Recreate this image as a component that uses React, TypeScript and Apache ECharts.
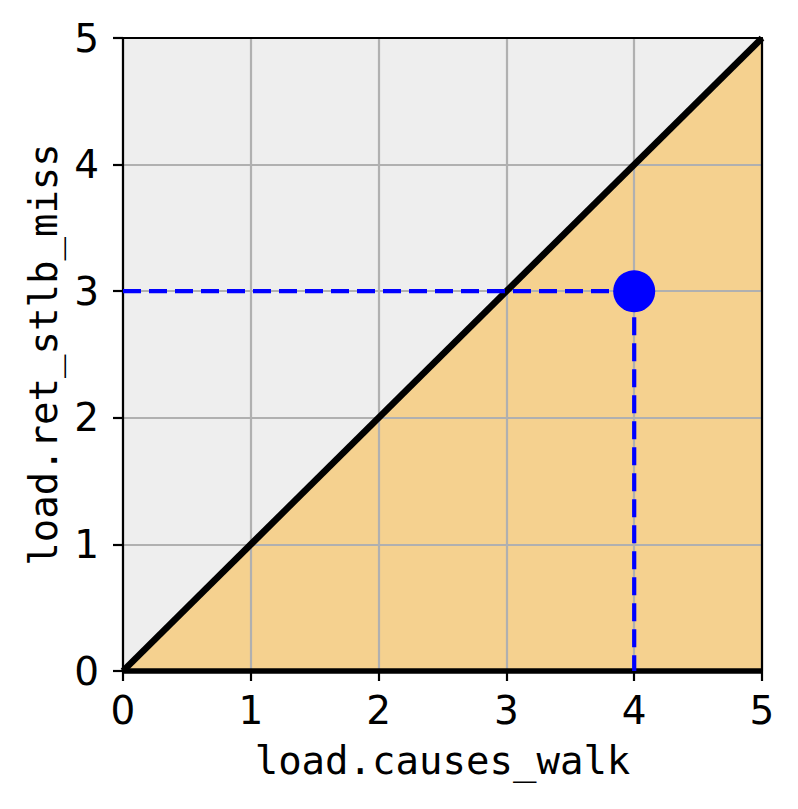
import React, { useEffect, useRef } from "react";
import * as echarts from "echarts";

const xTicks = [0, 1, 2, 3, 4, 5];
const yTicks = [0, 1, 2, 3, 4, 5];
const diagonal: [number, number][] = [[0, 0], [5, 5]];
const baseline: [number, number][] = [[0, 0], [5, 0]];
const point: [number, number] = [4, 3];
const xName = "load.causes_walk";
const yName = "load.ret_stlb_miss";

export default function App() {
  const ref = useRef<HTMLDivElement>(null);
  useEffect(() => {
    document.body.style.margin = "0";
    const chart = echarts.init(ref.current!, null, { renderer: "svg" });
    const xMin = xTicks[0], xMax = xTicks[xTicks.length - 1];
    const yMin = yTicks[0], yMax = yTicks[yTicks.length - 1];
    const hLine: [number, number][] = [[xMin, point[1]], point];
    const vLine: [number, number][] = [point, [point[0], yMin]];
    const tickFont = { fontSize: 39, color: "#000", fontFamily: "DejaVu Sans" };
    const nameFont = { fontSize: 39, color: "#000", fontFamily: "DejaVu Sans Mono" };
    const spine = { show: true, lineStyle: { color: "#000", width: 2.2 } };
    chart.setOption({
      animation: false,
      grid: {
        left: 123, top: 38, width: 639, height: 633,
        show: true, backgroundColor: "#eeeeee", borderWidth: 0, z: 0,
      },
      xAxis: [
        {
          type: "value", min: xMin, max: xMax, interval: 1, z: 2,
          name: xName, nameLocation: "middle", nameGap: 70, nameTextStyle: nameFont,
          axisLine: { ...spine, onZero: false },
          axisTick: { show: true, length: 10, lineStyle: { color: "#000", width: 2.2 } },
          axisLabel: { ...tickFont, margin: 20 },
          splitLine: { show: true, lineStyle: { color: "#b0b0b0", width: 2.2 } },
        },
        {
          type: "value", min: xMin, max: xMax, interval: 1, position: "top", z: 2,
          axisLine: { ...spine, onZero: false }, axisTick: { show: false },
          axisLabel: { show: false }, splitLine: { show: false },
        },
      ],
      yAxis: [
        {
          type: "value", min: yMin, max: yMax, interval: 1, z: 2,
          name: yName, nameLocation: "middle", nameGap: 58, nameTextStyle: nameFont,
          axisLine: { ...spine, onZero: false },
          axisTick: { show: true, length: 10, lineStyle: { color: "#000", width: 2.2 } },
          axisLabel: { ...tickFont, margin: 24 },
          splitLine: { show: true, lineStyle: { color: "#b0b0b0", width: 2.2 } },
        },
        {
          type: "value", min: yMin, max: yMax, interval: 1, position: "right", z: 2,
          axisLine: { ...spine, onZero: false }, axisTick: { show: false },
          axisLabel: { show: false }, splitLine: { show: false },
        },
      ],
      series: [
        {
          type: "line", data: diagonal, z: 1, symbol: "none",
          lineStyle: { width: 0 },
          areaStyle: { color: "#f5d18f", opacity: 1, origin: "start" },
        },
        {
          type: "line", data: diagonal, z: 3, symbol: "none",
          lineStyle: { color: "#000", width: 6.6, cap: "butt" },
        },
        {
          type: "line", data: baseline, z: 3, symbol: "none", clip: false,
          lineStyle: { color: "#000", width: 5.5 },
        },
        {
          type: "line", data: hLine, z: 3, symbol: "none",
          lineStyle: { color: "#0000ff", width: 4.2, type: [18, 8], cap: "butt" },
        },
        {
          type: "line", data: vLine, z: 3, symbol: "none",
          lineStyle: { color: "#0000ff", width: 4.2, type: [18, 8], cap: "butt" },
        },
        {
          type: "scatter", data: [point], z: 4, symbol: "circle", symbolSize: 42,
          itemStyle: { color: "#0000ff", opacity: 1 },
        },
      ],
    });
    return () => chart.dispose();
  }, []);
  return <div ref={ref} style={{ width: 798, height: 809 }} />;
}
